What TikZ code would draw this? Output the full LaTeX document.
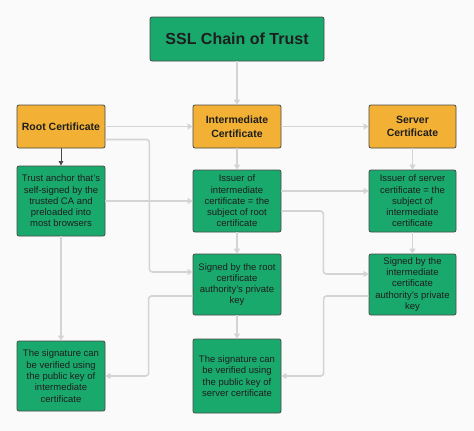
\documentclass[tikz,border=0pt]{standalone}
\usepackage{fontspec}
\setmainfont{Liberation Sans}
\usetikzlibrary{arrows.meta,calc}
\definecolor{bggray}{HTML}{FAFAFA}
\definecolor{boxgreen}{HTML}{1AA96C}
\definecolor{boxorange}{HTML}{F2B134}
\definecolor{boxborder}{HTML}{4A4A4A}
\definecolor{linkgray}{HTML}{D4D4D4}
\definecolor{textdark}{HTML}{1E1E1E}
\tikzset{
  box/.style={draw=boxborder, line width=0.8pt, rounded corners=2pt,
    align=center, text=textdark, inner sep=1pt},
  greenbox/.style={box, fill=boxgreen, font=\fontsize{9.5}{11.3}\selectfont},
  orangebox/.style={box, fill=boxorange, font=\bfseries\fontsize{10.5}{13.5}\selectfont},
  link/.style={draw=linkgray, line width=1.6pt, rounded corners=3pt,
    -{Triangle[width=6pt,length=5pt]}},
  darklink/.style={draw=boxborder, line width=0.9pt,
    -{Triangle[width=4.5pt,length=4.5pt]}}
}
\begin{document}
\begin{tikzpicture}[x=1pt,y=-1pt]
\fill[bggray] (0,0) rectangle (474,431);
\useasboundingbox (0,0) rectangle (474,431);

\node[box, fill=boxgreen, minimum width=174pt, minimum height=44pt,
  font=\bfseries\fontsize{16}{18}\selectfont] (title) at (237,39) {SSL Chain of Trust};

\node[orangebox, minimum width=88pt, minimum height=43pt] (root) at (61,126.5) {Root Certificate};
\node[orangebox, minimum width=88pt, minimum height=43pt] (inter) at (237,126.5) {Intermediate\\Certificate};
\node[orangebox, minimum width=87pt, minimum height=43pt] (server) at (412.5,126.5) {Server\\Certificate};

\node[greenbox, minimum width=88pt, minimum height=70pt] (trust) at (61,201)
  {Trust anchor that's\\self-signed by the\\trusted CA and\\preloaded into\\most browsers};
\node[greenbox, minimum width=88pt, minimum height=62pt] (issI) at (237,201)
  {Issuer of\\intermediate\\certificate = the\\subject of root\\certificate};
\node[greenbox, minimum width=87pt, minimum height=62pt] (issS) at (412.5,201)
  {Issuer of server\\certificate = the\\subject of\\intermediate\\certificate};

\node[greenbox, minimum width=88pt, minimum height=61pt] (signR) at (237,284.5)
  {Signed by the root\\certificate\\authority's private\\key};
\node[greenbox, minimum width=87pt, minimum height=61pt] (signI) at (412.5,284.5)
  {Signed by the\\intermediate\\certificate\\authority's private\\key};

\node[greenbox, minimum width=88pt, minimum height=70pt] (sigI) at (61,376)
  {The signature can\\be verified using\\the public key of\\intermediate\\certificate};
\node[greenbox, minimum width=88pt, minimum height=74pt] (sigS) at (237,376)
  {The signature can\\be verified using\\the public key of\\server certificate};

% connectors
\draw[link] (title) -- (inter);
\draw[link] (root) -- (inter);
\draw[link] (inter) -- (server);
\draw[darklink] (root) -- (trust);
\draw[link] ([yshift=-13pt]root.east) -- ++(44,0) |- ([yshift=12.5pt]signR.west);
\draw[link] (trust.east) -- (issI.west);
\draw[link] (inter) -- (issI);
\draw[link] (server) -- (issS);
\draw[link] ([yshift=10pt]issI.east) -- ([yshift=10pt]issS.west);
\draw[link] ([yshift=-10pt]issI.east) -- ++(42,0) |- ([yshift=10.5pt]signI.west);
\draw[link] (issI) -- (signR);
\draw[link] (issS) -- (signI);
\draw[link] (trust) -- (sigI);
\draw[link] ([yshift=-11.5pt]signR.west) -- ++(-44,0) |- (sigI.east);
\draw[link] (signR) -- (sigS);
\draw[link] ([yshift=-11.5pt]signI.west) -- ++(-45,0) |- (sigS.east);
\end{tikzpicture}
\end{document}
